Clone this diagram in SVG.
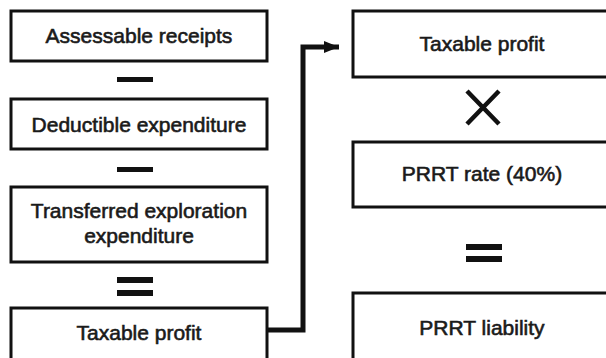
<svg xmlns="http://www.w3.org/2000/svg" width="606" height="358" viewBox="0 0 606 358">
<style>
.box{fill:#fff;stroke:#111;stroke-width:3}
.t{font-family:"Liberation Sans",Arial,sans-serif;font-size:21px;fill:#1a1a1a;stroke:#1a1a1a;stroke-width:0.6;text-anchor:middle}
.op{fill:#111}
.conn{fill:none;stroke:#111;stroke-width:5}
</style>
<defs>
<marker id="arr" markerUnits="userSpaceOnUse" markerWidth="16" markerHeight="14" refX="15" refY="6" orient="auto">
<polygon points="0,0 15,6 0,12" fill="#111"/>
</marker>
</defs>
<rect width="606" height="358" fill="#fff"/>
<g id="connectors">
<path class="conn" d="M268,330 H303 V47 H339" marker-end="url(#arr)"/>
</g>
<g id="assessable-receipts">
<rect class="box" x="11" y="11" width="256" height="50"/>
<text class="t" x="139" y="43">Assessable receipts</text>
</g>
<g id="minus-1"><rect class="op" x="117" y="77" width="36" height="5"/></g>
<g id="deductible-expenditure">
<rect class="box" x="11" y="99" width="256" height="50"/>
<text class="t" x="139" y="132">Deductible expenditure</text>
</g>
<g id="minus-2"><rect class="op" x="117" y="167" width="36" height="5"/></g>
<g id="transferred-exploration">
<rect class="box" x="11" y="187" width="256" height="75"/>
<text class="t" x="139" y="218">Transferred exploration</text>
<text class="t" x="139" y="243">expenditure</text>
</g>
<g id="equals-left">
<rect class="op" x="117" y="277" width="36" height="6"/>
<rect class="op" x="117" y="290" width="36" height="6"/>
</g>
<g id="taxable-profit-left">
<rect class="box" x="11" y="308" width="256" height="70"/>
<text class="t" x="139" y="340">Taxable profit</text>
</g>
<g id="taxable-profit-right">
<rect class="box" x="353" y="11" width="280" height="66"/>
<text class="t" x="482" y="51">Taxable profit</text>
</g>
<g id="times">
<path d="M467,91 L499,124 M499,91 L467,124" stroke="#111" stroke-width="4.5" fill="none"/>
</g>
<g id="prrt-rate">
<rect class="box" x="353" y="142" width="280" height="65"/>
<text class="t" x="482" y="181">PRRT rate (40%)</text>
</g>
<g id="equals-right">
<rect class="op" x="466" y="244" width="36" height="6"/>
<rect class="op" x="466" y="256" width="36" height="6"/>
</g>
<g id="prrt-liability">
<rect class="box" x="353" y="293" width="280" height="90"/>
<text class="t" x="482" y="335">PRRT liability</text>
</g>
</svg>
